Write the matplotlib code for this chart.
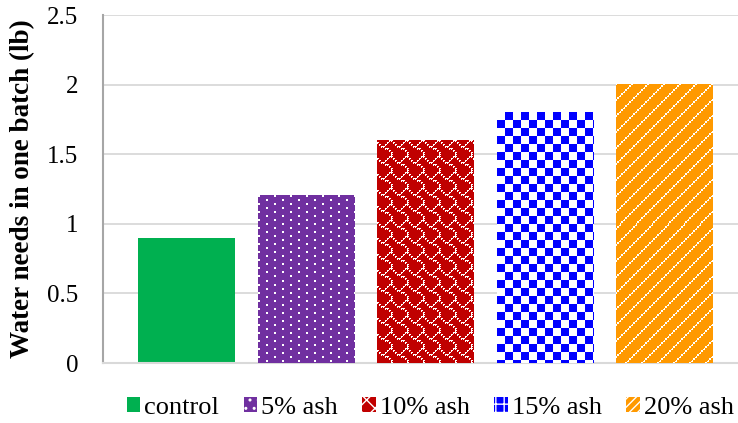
import numpy as np
import matplotlib
matplotlib.use('Agg')
import matplotlib.pyplot as plt
from matplotlib.colors import to_rgb
from matplotlib.patches import Patch

categories = ['control', '5% ash', '10% ash', '15% ash', '20% ash']
values = [0.9, 1.2, 1.6, 1.8, 2.0]
colors = ['#00B050', '#7030A0', '#C00000', '#0000FF', '#FF9900']
patterns = [None, 'dots', 'shingle', 'checker', 'diag']
legend_hatches = [None, '..', 'xx', '++', '////']
yticks = [0, 0.5, 1, 1.5, 2, 2.5]
ytick_labels = ['0', '0.5', '1', '1.5', '2', '2.5']
ylabel = 'Water needs in one batch (lb)'

plt.rcParams['font.family'] = ['Liberation Serif', 'DejaVu Serif']


def tile(name):
    if name == 'dots':
        t = np.zeros((8, 16), bool)
        t[0:2, 0:2] = True
        t[4:6, 8:10] = True
    elif name == 'checker':
        t = np.zeros((16, 16), bool)
        t[0:8, 0:8] = True
        t[8:16, 8:16] = True
    elif name == 'shingle':
        rows = [0x03, 0x84, 0x48, 0x30, 0x0c, 0x02, 0x01, 0x01]
        t = np.zeros((16, 16), bool)
        for r, bits in enumerate(rows):
            for c in range(8):
                if (bits >> (7 - c)) & 1:
                    t[2 * r, 2 * c] = True
                    t[2 * r, 2 * c + 1] = True
                    t[2 * r + 1, 2 * c] = True
    else:  # diag
        yy, xx = np.mgrid[0:16, 0:16]
        s = (xx + yy) % 16
        t = (s == 15) | ((s == 0) & (yy % 2 == 0)) | ((s == 14) & (yy % 4 == 1))
    return t


fig = plt.figure(figsize=(7.38, 4.23), dpi=100)
ax = fig.add_axes([103 / 738, 1 - 363 / 423, 1 - 103 / 738, (363 - 15) / 423])

x = np.arange(len(categories))
bars = ax.bar(x, values, width=0.81, color=colors, zorder=2, linewidth=0)

ax.set_xlim(-0.699, 4.615)
ax.set_ylim(0, 2.5)
ax.set_yticks(yticks)
ax.set_yticklabels(ytick_labels)
ax.set_xticks([])
ax.tick_params(axis='y', length=0, pad=18, labelsize=18)
ax.grid(axis='y', color='#D9D9D9', linewidth=1.3, zorder=0)
ax.set_axisbelow(True)
for s in ['top', 'right']:
    ax.spines[s].set_visible(False)
ax.spines['left'].set_color('#A6A6A6')
ax.spines['left'].set_linewidth(1.5)
ax.spines['bottom'].set_color('#D9D9D9')
ax.spines['bottom'].set_linewidth(1.5)

ax.set_ylabel(ylabel, fontsize=19.5, fontweight='bold')
ax.yaxis.set_label_coords(-0.107, 0.5)

fig.canvas.draw()
renderer = fig.canvas.get_renderer()
for rect, pat, col in zip(bars, patterns, colors):
    if pat is None:
        continue
    bb = rect.get_window_extent(renderer)
    nx = max(1, int(round(bb.width)))
    ny = max(1, int(round(bb.height)))
    t = tile(pat)
    th, tw = t.shape
    mask = np.tile(t, (ny // th + 2, nx // tw + 2))[:ny, :nx]
    img = np.zeros((ny, nx, 3))
    img[:] = to_rgb(col)
    img[mask] = (1, 1, 1)
    x0 = rect.get_x()
    x1 = x0 + rect.get_width()
    ax.imshow(img, extent=(x0, x1, 0, rect.get_height()), interpolation='nearest',
              aspect='auto', clip_path=rect, zorder=3)

ax.set_xlim(-0.699, 4.615)
ax.set_ylim(0, 2.5)

handles = []
for col, h in zip(colors, legend_hatches):
    if h is None:
        handles.append(Patch(facecolor=col, edgecolor=col, linewidth=0))
    else:
        handles.append(Patch(facecolor=col, edgecolor='white', linewidth=0, hatch=h))
fig.legend(handles, categories, loc='center', bbox_to_anchor=(0.583, 0.036),
           ncol=5, frameon=False, fontsize=19, handlelength=0.5, handleheight=0.5,
           handletextpad=0.15, columnspacing=0.94, borderpad=0, borderaxespad=0)

fig.savefig('out.png', dpi=100)
